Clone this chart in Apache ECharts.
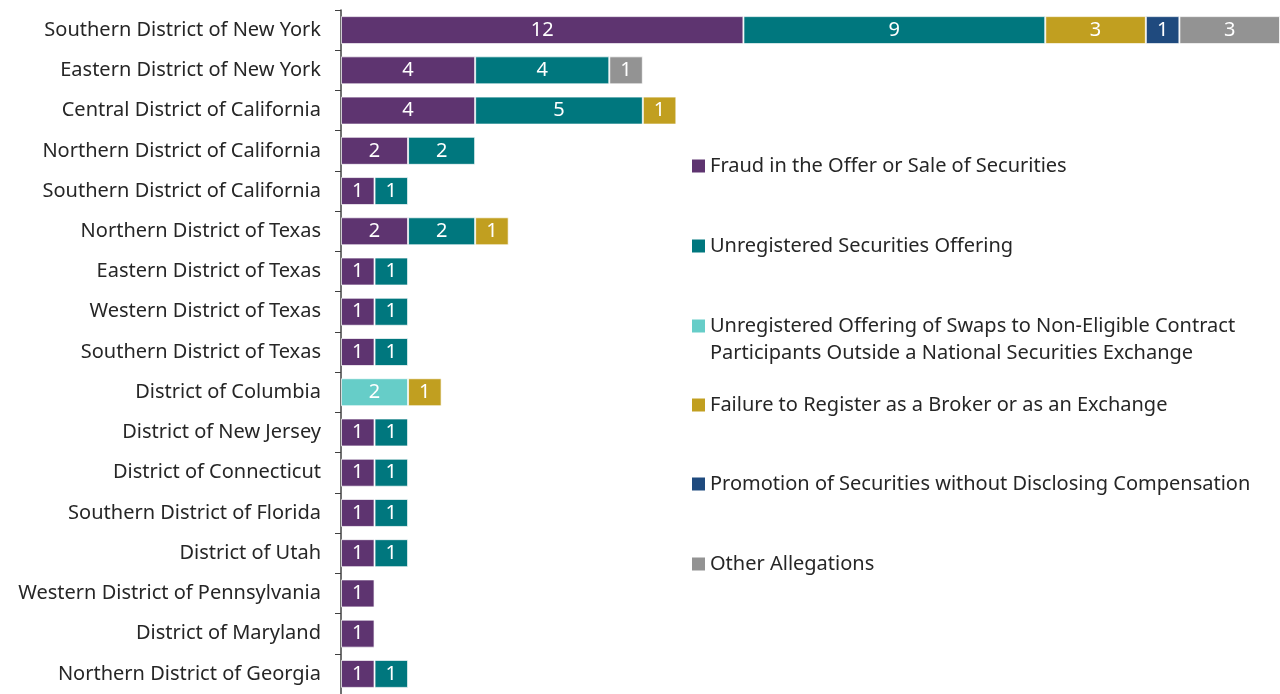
<!DOCTYPE html>
<html>
<head>
<meta charset="utf-8">
<script src="https://cdn.jsdelivr.net/npm/echarts@6/dist/echarts.min.js"></script>
<style>
  html, body { margin: 0; padding: 0; background: #fff; }
  #box { width: 1280px; height: 694px; }
</style>
</head>
<body>
<div id="box"></div>
<script>
// districts, top to bottom
var districts = ['Southern District of New York', 'Eastern District of New York', 'Central District of California',
    'Northern District of California', 'Southern District of California', 'Northern District of Texas',
    'Eastern District of Texas', 'Western District of Texas', 'Southern District of Texas', 'District of Columbia',
    'District of New Jersey', 'District of Connecticut', 'Southern District of Florida', 'District of Utah',
    'Western District of Pennsylvania', 'District of Maryland', 'Northern District of Georgia'];

var fraud        = [12, 4, 4, 2, 1, 2, 1, 1, 1, null, 1, 1, 1, 1, 1, 1, 1];
var unregistered = [9, 4, 5, 2, 1, 2, 1, 1, 1, null, 1, 1, 1, 1, null, null, 1];
var swaps        = [null, null, null, null, null, null, null, null, null, 2, null, null, null, null, null, null, null];
var failure      = [3, null, 1, null, null, 1, null, null, null, 1, null, null, null, null, null, null, null];
var promotion    = [1, null, null, null, null, null, null, null, null, null, null, null, null, null, null, null, null];
var other        = [3, 1, null, null, null, null, null, null, null, null, null, null, null, null, null, null, null];

var names = ['Fraud in the Offer or Sale of Securities', 'Unregistered Securities Offering',
    'Unregistered Offering of Swaps to Non-Eligible Contract Participants Outside a National Securities Exchange',
    'Failure to Register as a Broker or as an Exchange', 'Promotion of Securities without Disclosing Compensation',
    'Other Allegations'];
var colors = ['#5e3470', '#00777e', '#66cdc8', '#c19f20', '#1f4a7e', '#939393'];
var values = [fraud, unregistered, swaps, failure, promotion, other];
var legendTops = [156, 236, 316, 395, 474, 554];

var font = 'Noto Sans';
var textColor = '#262626';

var myChart = echarts.init(document.getElementById('box'));

var series = [];
var legends = [];
for (var i = 0; i < names.length; i++) {
    series.push({
        name: names[i],
        type: 'bar',
        stack: 'all',
        data: values[i],
        barWidth: 28,
        itemStyle: { color: colors[i], borderColor: 'rgba(255,255,255,0.7)', borderWidth: 1 },
        label: {
            show: true,
            position: 'inside',
            color: '#fff',
            fontFamily: font,
            fontSize: 20
        }
    });
    legends.push({
        left: 692,
        top: legendTops[i],
        padding: 0,
        data: [names[i]],
        icon: 'rect',
        itemWidth: 13,
        itemHeight: 13,
        itemStyle: { borderWidth: 0 },
        selectedMode: false,
        // long name wraps: first line here, second line as graphic text below
        formatter: function (name) {
            if (name.indexOf('Participants') > 0) return 'Unregistered Offering of Swaps to Non-Eligible Contract';
            return name;
        },
        textStyle: { color: textColor, fontFamily: font, fontSize: 20 }
    });
}

var option = {
    animation: false,
    legend: legends,
    graphic: [{
        type: 'text',
        left: 710,
        top: 343,
        style: {
            text: 'Participants Outside a National Securities Exchange',
            fill: textColor,
            font: '20px "Noto Sans"'
        }
    }],
    grid: { left: 341, top: 10, bottom: 0, width: 941, containLabel: false },
    xAxis: { type: 'value', min: 0, max: 28, show: false },
    yAxis: {
        type: 'category',
        inverse: true,
        data: districts,
        axisLine: { lineStyle: { color: '#404040', width: 1.5 } },
        axisTick: { show: true, length: 6, lineStyle: { color: '#404040' } },
        axisLabel: { color: textColor, fontFamily: font, fontSize: 20, margin: 20 }
    },
    series: series
};
myChart.setOption(option);
</script>
</body>
</html>
